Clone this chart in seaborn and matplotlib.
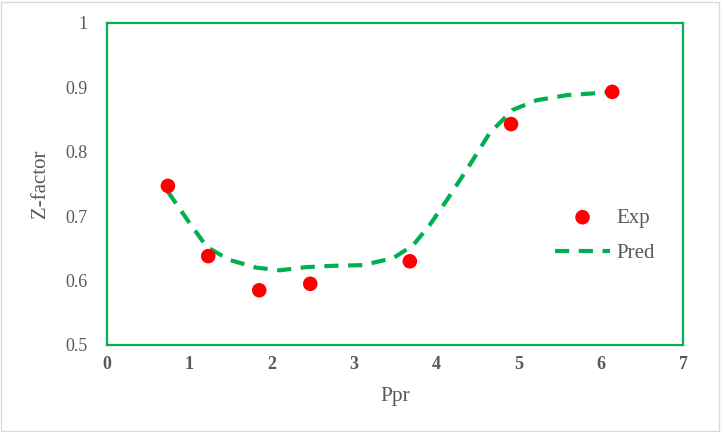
import matplotlib

matplotlib.use("Agg")
import matplotlib.pyplot as plt
import pandas as pd
import seaborn as sns
from matplotlib.patches import Rectangle

# experimental points
exp_ppr = [0.74, 1.23, 1.85, 2.47, 3.68, 4.91, 6.14]
exp_z = [0.747, 0.638, 0.585, 0.595, 0.630, 0.843, 0.893]

# predicted curve
pred_ppr = [0.74, 1.00, 1.215, 1.49, 1.82, 2.10, 2.43, 2.75, 3.11, 3.48, 3.72,
            3.92, 4.13, 4.37, 4.65, 4.93, 5.22, 5.59, 5.95, 6.14]
pred_z = [0.738, 0.690, 0.652, 0.632, 0.620, 0.616, 0.621, 0.623, 0.624, 0.635,
          0.655, 0.686, 0.725, 0.772, 0.829, 0.865, 0.880, 0.888, 0.891, 0.893]

GREEN, RED, GREY = "#00B050", "#FF0000", "#595959"
DASH = (3.4, 2.3)

sns.set_theme(style="white")
plt.rcParams["font.family"] = ["Liberation Serif", "DejaVu Serif"]

exp_df = pd.DataFrame({"Ppr": exp_ppr, "Z": exp_z})
pred_df = pd.DataFrame({"Ppr": pred_ppr, "Z": pred_z})

fig = plt.figure(figsize=(7.25, 4.32), dpi=100)
ax = fig.add_axes([0.1476, 0.2014, 0.7945, 0.7454])

sns.scatterplot(data=exp_df, x="Ppr", y="Z", color=RED, s=110, edgecolor="none",
                label="Exp", ax=ax, zorder=3)
sns.lineplot(data=pred_df, x="Ppr", y="Z", color=GREEN, lw=3, sort=False,
             label="Pred", ax=ax, zorder=2)
ax.lines[0].set_dashes(DASH)

ax.set_xlim(0, 7); ax.set_ylim(0.5, 1.0)
ax.set_xticks(range(0, 8))
ax.set_yticks([0.5, 0.6, 0.7, 0.8, 0.9, 1.0])
ax.set_yticklabels(["0.5", "0.6", "0.7", "0.8", "0.9", "1"])
ax.tick_params(axis="both", length=0, labelsize=13, labelcolor=GREY)
ax.tick_params(axis="y", pad=14)
ax.tick_params(axis="x", pad=8)
for t in ax.get_xticklabels():
    t.set_fontweight("bold")
for sp in ax.spines.values():
    sp.set_color(GREEN); sp.set_linewidth(1.6)

ax.set_xlabel("Ppr", fontsize=15.5, color=GREY, labelpad=10)
ax.set_ylabel("Z-factor", fontsize=15, color=GREY, labelpad=11)

leg = ax.legend(loc="center left", bbox_to_anchor=(0.746, 0.34), frameon=False,
                fontsize=15, labelcolor=GREY, handlelength=2.6, handletextpad=0.3,
                labelspacing=0.75)
for ln in leg.get_lines():
    ln.set_dashes(DASH)

fig.patches.append(Rectangle((0.002, 0.002), 0.990, 0.994, transform=fig.transFigure,
                             fill=False, edgecolor="#d9d9d9", lw=1))

fig.savefig("out.png", dpi=100)
plt.close(fig)
